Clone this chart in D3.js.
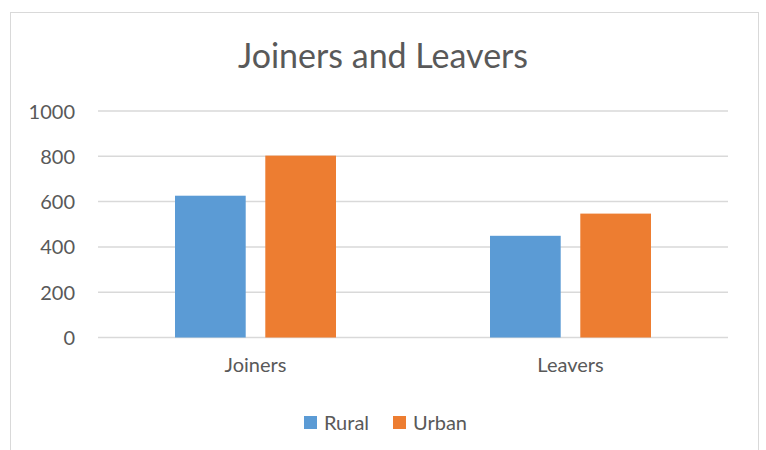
<!doctype html>
<html>
<head>
<meta charset="utf-8">
<title>Joiners and Leavers</title>
<style>
* {padding:0;margin:0}
body {background:#fff}
text {font-family: Lato, "Open Sans", sans-serif; fill:#595959}
</style>
</head>
<body>
<div id="chart"></div>
<script src="https://d3js.org/d3.v7.min.js"></script>
<script>
const categories = ["Joiners", "Leavers"];
const seriesNames = ["Rural", "Urban"];
const rural = [626, 449];
const urban = [803, 547];
const yTicks = [0, 200, 400, 600, 800, 1000];
const colors = ["#5b9bd5", "#ed7d31"];

const W = 766, H = 450;
const margin = {top: 111, right: 38, bottom: 112.5, left: 98};
const width = W - margin.left - margin.right;
const height = H - margin.top - margin.bottom;

const svg = d3.select("#chart").append("svg")
	.attr("width", W)
	.attr("height", H);

// chart frame
svg.append("rect")
	.attr("x", 10.5).attr("y", 12.5)
	.attr("width", 748).attr("height", 460)
	.attr("fill", "none")
	.attr("stroke", "#d9d9d9");

svg.append("text")
	.attr("x", 383).attr("y", 68)
	.attr("text-anchor", "middle")
	.style("font-size", "34px")
	.text("Joiners and Leavers");

const g = svg.append("g")
	.attr("transform", "translate(" + margin.left + "," + margin.top + ")");

const x = d3.scaleBand().domain(categories).range([0, width]).paddingInner(0).paddingOuter(0);
const y = d3.scaleLinear().domain([0, 1000]).range([height, 0]);
const xs = d3.scaleBand().domain(seriesNames).range([77, x.bandwidth() - 77]).paddingInner(0.217);

g.selectAll("line.grid").data(yTicks).enter()
	.append("line")
	.attr("class", "grid")
	.attr("x1", 0).attr("x2", width)
	.attr("y1", d => y(d)).attr("y2", d => y(d))
	.attr("stroke", "#d9d9d9")
	.attr("stroke-width", 1.5);

const yAxis = g.append("g")
	.call(d3.axisLeft(y).tickValues(yTicks).tickFormat(d3.format("d")).tickSize(0).tickPadding(23));
yAxis.select(".domain").remove();
yAxis.selectAll("text").style("font-size", "20px").attr("fill", "#595959").attr("dy", "0.35em");

const xAxis = g.append("g")
	.attr("transform", "translate(0," + height + ")")
	.call(d3.axisBottom(x).tickSize(0).tickPadding(20));
xAxis.select(".domain").remove();
xAxis.selectAll("text").style("font-size", "20px").attr("fill", "#595959");

const rows = categories.map((c, i) => ({cat: c, values: [rural[i], urban[i]]}));

const groups = g.selectAll("g.cat").data(rows).enter()
	.append("g")
	.attr("class", "cat")
	.attr("transform", d => "translate(" + x(d.cat) + ",0)");

groups.selectAll("rect").data(d => d.values.map((v, j) => ({s: seriesNames[j], v: v, c: colors[j]}))).enter()
	.append("rect")
	.attr("x", d => xs(d.s))
	.attr("width", xs.bandwidth())
	.attr("y", d => y(d.v))
	.attr("height", d => height - y(d.v))
	.attr("fill", d => d.c);

// legend
const legend = svg.append("g").attr("transform", "translate(304,416)");
const items = legend.selectAll("g").data(seriesNames).enter()
	.append("g")
	.attr("transform", (d, i) => "translate(" + (i * 89) + ",0)");
items.append("rect").attr("width", 13).attr("height", 13).attr("fill", (d, i) => colors[i]);
items.append("text").attr("x", 20).attr("y", 6.5).attr("dy", "0.35em")
	.style("font-size", "20px").text(d => d);
</script>
</body>
</html>
